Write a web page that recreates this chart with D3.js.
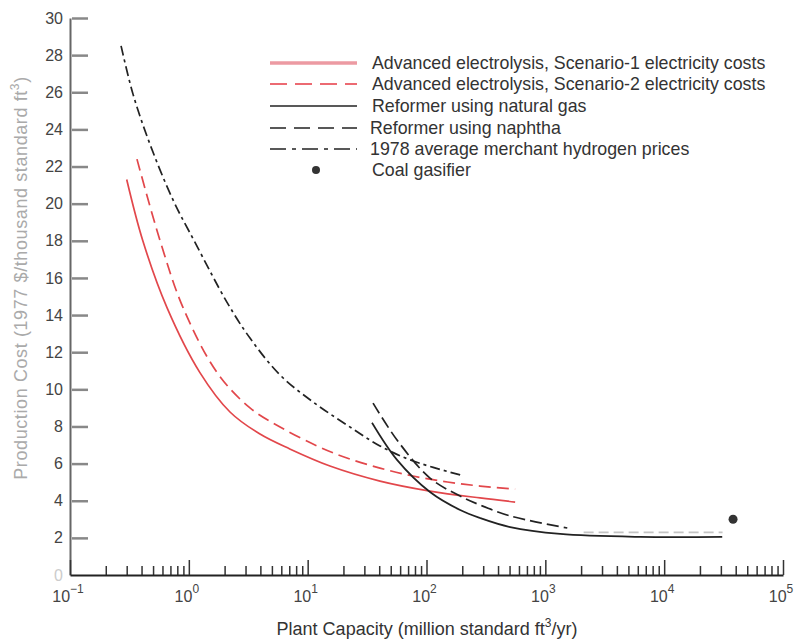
<!DOCTYPE html>
<html>
<head>
<meta charset="utf-8">
<script src="https://cdn.jsdelivr.net/npm/d3@7"></script>
<style>
  body { margin: 0; background: #fff; }
  text { font-family: "Liberation Sans", Arial, sans-serif; }
</style>
</head>
<body>
<script>
// Plant capacity (million standard ft^3/yr) vs production cost (1977 $/thousand standard ft^3)
const elec1Capacity = [0.3, 0.41, 0.655, 1.24, 2.22, 3.97, 7.07, 15.4, 40.6, 107, 282, 557];
const elec1Cost     = [21.3, 18.0, 14.4, 10.9, 8.78, 7.59, 6.79, 5.87, 5.06, 4.52, 4.15, 3.93];

const elec2Capacity = [0.366, 0.573, 0.894, 1.73, 3.27, 5.86, 12, 21.4, 40.6, 77, 150, 282, 557];
const elec2Cost     = [22.4, 18.0, 14.4, 10.9, 9.0, 7.97, 6.95, 6.3, 5.76, 5.33, 5.01, 4.79, 4.63];

const gasCapacity = [34.8, 56.5, 107, 192, 282, 506, 1334, 6280, 30800];
const gasCost     = [8.2, 6.2, 4.47, 3.5, 3.07, 2.58, 2.21, 2.05, 2.05];

const naphthaCapacity = [35.5, 56.5, 107, 192, 282, 506, 1530];
const naphthaCost     = [9.26, 7.27, 5.22, 4.25, 3.77, 3.18, 2.53];
const naphthaTailCapacity = [2100, 31000];
const naphthaTailCost     = [2.3, 2.3];

const merchantCapacity = [0.269, 0.339, 0.471, 0.736, 1.13, 2.09, 3.27, 5.86, 11.1, 21.4, 40.6, 77.3, 192];
const merchantCost     = [28.5, 25.9, 23.2, 20.2, 17.9, 14.7, 12.76, 10.77, 9.32, 8.08, 6.95, 6.14, 5.39];

const coalCapacity = [38000];
const coalCost     = [3.0];

const yTicks = d3.range(0, 31, 2);
const xDecades = [-1, 0, 1, 2, 3, 4, 5];

const legendLabels = [
  "Advanced electrolysis, Scenario-1 electricity costs",
  "Advanced electrolysis, Scenario-2 electricity costs",
  "Reformer using natural gas",
  "Reformer using naphtha",
  "1978 average merchant hydrogen prices",
  "Coal gasifier"
];

const width = 800, height = 640;
const svg = d3.select("body").append("svg")
  .attr("width", width)
  .attr("height", height);

const x = d3.scaleLog().domain([0.1, 1e5]).range([70, 783]);
const y = d3.scaleLinear().domain([0, 30]).range([575, 18]);

const RED = "#e2474b";
const BLACK = "#222";

// y axis, ticks pointing into the plot
const yAxis = svg.append("g")
  .attr("transform", `translate(${x(0.1)},0)`)
  .call(d3.axisLeft(y).tickValues(yTicks).tickSizeInner(-16).tickSizeOuter(0).tickPadding(7));
yAxis.select(".domain").attr("stroke", "#666").attr("stroke-width", 2);
yAxis.selectAll(".tick line").attr("stroke", "#888").attr("stroke-width", 2.5)
  .attr("transform", "translate(2,0)");
yAxis.selectAll(".tick").filter(d => d === 0).select("line").remove();
yAxis.selectAll(".tick text")
  .attr("font-size", 16)
  .attr("fill", d => d === 0 ? "#ccc" : "#444")
  .style("font-family", "'Liberation Sans', Arial, sans-serif");

// x axis: minor ticks then decade ticks
const allXTicks = x.ticks();
const minorTicks = allXTicks.filter(d => Math.abs(Math.log10(d) - Math.round(Math.log10(d))) > 1e-6);
const majorTicks = xDecades.map(p => Math.pow(10, p));

const xMinor = svg.append("g")
  .attr("transform", `translate(0,${y(0)})`)
  .call(d3.axisBottom(x).tickValues(minorTicks).tickSizeInner(-9).tickSizeOuter(0).tickFormat(""));
xMinor.select(".domain").remove();
xMinor.selectAll(".tick line").attr("stroke", "#333").attr("stroke-width", 1.5);

const xMajor = svg.append("g")
  .attr("transform", `translate(0,${y(0)})`)
  .call(d3.axisBottom(x).tickValues(majorTicks).tickSizeInner(-15).tickSizeOuter(0).tickFormat(""));
xMajor.select(".domain").attr("stroke", "#222").attr("stroke-width", 2);
xMajor.selectAll(".tick line").attr("stroke", "#333").attr("stroke-width", 1.5);

// decade labels with superscript exponents
const xLabels = svg.append("g");
xDecades.forEach(p => {
  const t = xLabels.append("text")
    .attr("x", x(Math.pow(10, p)) - 2)
    .attr("y", 602)
    .attr("text-anchor", "middle")
    .attr("fill", "#444")
    .attr("font-size", 16);
  t.append("tspan").text("10");
  t.append("tspan").attr("dy", -9).attr("font-size", 12)
    .text(p < 0 ? "\u2212" + (-p) : String(p));
});

// axis titles
const xTitle = svg.append("text")
  .attr("x", 427).attr("y", 635)
  .attr("text-anchor", "middle")
  .attr("fill", "#333")
  .attr("font-size", 18);
xTitle.append("tspan").text("Plant Capacity (million standard ft");
xTitle.append("tspan").attr("dy", -8).attr("font-size", 12).text("3");
xTitle.append("tspan").attr("dy", 8).text("/yr)");

const yTitle = svg.append("text")
  .attr("transform", "translate(27,278) rotate(-90)")
  .attr("text-anchor", "middle")
  .attr("fill", "#aaa")
  .attr("font-size", 18)
  .attr("letter-spacing", 0.6);
yTitle.append("tspan").text("Production Cost (1977 $/thousand standard ft");
yTitle.append("tspan").attr("dy", -8).attr("font-size", 12).text("3");
yTitle.append("tspan").attr("dy", 8).text(")");

// curves
const line = d3.line()
  .x(d => x(d[0]))
  .y(d => y(d[1]))
  .curve(d3.curveCatmullRom.alpha(0.5));

const series = [
  { cap: elec1Capacity, cost: elec1Cost, color: RED, dash: null },
  { cap: elec2Capacity, cost: elec2Cost, color: RED, dash: "12,6" },
  { cap: gasCapacity, cost: gasCost, color: BLACK, dash: null },
  { cap: naphthaCapacity, cost: naphthaCost, color: BLACK, dash: "12,5" },
  { cap: naphthaTailCapacity, cost: naphthaTailCost, color: "#c4c4c4", dash: "10,5" },
  { cap: merchantCapacity, cost: merchantCost, color: BLACK, dash: "10,4,3,4" }
];

svg.append("g").selectAll("path")
  .data(series)
  .join("path")
  .attr("d", s => line(d3.zip(s.cap, s.cost)))
  .attr("fill", "none")
  .attr("stroke", s => s.color)
  .attr("stroke-width", 1.7)
  .attr("stroke-dasharray", s => s.dash);

svg.append("g").selectAll("circle")
  .data(d3.zip(coalCapacity, coalCost))
  .join("circle")
  .attr("cx", d => x(d[0]))
  .attr("cy", d => y(d[1]))
  .attr("r", 4.5)
  .attr("fill", "#333");

// legend
const legendStyles = [
  { color: "#ec9aa2", dash: null, width: 3.5 },
  { color: "#e63a44", dash: "17,8", width: 1.7 },
  { color: BLACK, dash: null, width: 1.7 },
  { color: BLACK, dash: "16,8", width: 1.7 },
  { color: BLACK, dash: "16,6,4,6", width: 1.7 },
  null
];
const legendY = [63, 84, 106, 128, 149, 170];
const legendTextX = [372, 372, 372, 370, 370, 372];

const legend = svg.append("g");
legendLabels.forEach((label, i) => {
  const st = legendStyles[i];
  if (st) {
    legend.append("line")
      .attr("x1", 270).attr("x2", 357)
      .attr("y1", legendY[i]).attr("y2", legendY[i])
      .attr("stroke", st.color)
      .attr("stroke-width", st.width)
      .attr("stroke-dasharray", st.dash);
  } else {
    legend.append("circle")
      .attr("cx", 316).attr("cy", legendY[i])
      .attr("r", 4).attr("fill", "#333");
  }
  legend.append("text")
    .attr("x", legendTextX[i])
    .attr("y", legendY[i] + 6)
    .attr("fill", "#333")
    .attr("font-size", 17.8)
    .text(label);
});
</script>
</body>
</html>
